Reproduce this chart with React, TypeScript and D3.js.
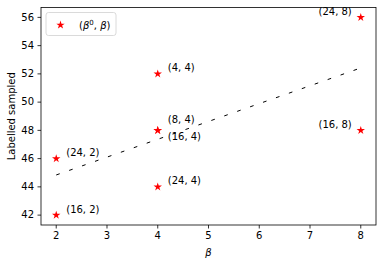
import React from 'react';
import * as d3 from 'd3';

// (β0, β) pairs and the labelled sample count for each
const betaZero = [16, 24, 4, 8, 16, 24, 16, 24];
const beta = [2, 2, 4, 4, 4, 4, 8, 8];
const labelled = [42, 46, 52, 48, 48, 44, 48, 56];

const xTicks = [2, 3, 4, 5, 6, 7, 8];
const yTicks = [42, 44, 46, 48, 50, 52, 54, 56];

// annotation placement (dx, dy of text centre, anchor)
const labelNudge: Record<string, [number, number, string]> = {
  '24,8': [-9, -6, 'end'],
  '16,8': [-9, -6, 'end'],
  '8,4': [10, -10.5, 'start'],
  '16,4': [10, 6, 'start'],
};

const W = 382;
const H = 267;
const margin = { left: 41, right: 6, top: 7.5, bottom: 42 };
const font = 'DejaVu Sans, sans-serif';

export default function App() {
  const x = d3.scaleLinear().domain([1.7, 8.3]).range([margin.left, W - margin.right]);
  const y = d3.scaleLinear().domain([41.3, 56.7]).range([H - margin.bottom, margin.top]);

  // least squares fit through the points
  const mx = d3.mean(beta)!;
  const my = d3.mean(labelled)!;
  const sxy = d3.sum(beta, (b, i) => (b - mx) * (labelled[i] - my));
  const sxx = d3.sum(beta, (b) => (b - mx) * (b - mx));
  const slope = sxy / sxx;
  const fit = (b: number) => my + slope * (b - mx);
  const xs = [d3.min(beta)!, d3.max(beta)!];
  const line = d3.line<number>().x((b) => x(b)).y((b) => y(fit(b)));

  const star = d3.symbol().type(d3.symbolStar).size(22)()!;
  const [x0, x1] = x.range();
  const [y0, y1] = y.range();

  return (
    <svg width={W} height={H} style={{ position: 'absolute', left: 0, top: 0, background: '#fff' }}
      fontFamily={font} fontSize={10}>
      <path d={line(xs)!} fill="none" stroke="#000" strokeWidth={1} strokeDasharray="3.7,10" />
      {beta.map((b, i) => {
        const key = `${betaZero[i]},${b}`;
        const [dx, dy, anchor] = labelNudge[key] ?? [10, -6, 'start'];
        return (
          <g key={i}>
            <path d={star} transform={`translate(${x(b)},${y(labelled[i])})`} fill="red" />
            <text x={x(b) + dx} y={y(labelled[i]) + dy} dy="0.35em" textAnchor={anchor} fill="#000">
              ({betaZero[i]}, {b})
            </text>
          </g>
        );
      })}
      <rect x={x0} y={y1} width={x1 - x0} height={y0 - y1} fill="none" stroke="#000" strokeWidth={0.8} />
      {xTicks.map((t) => (
        <g key={t} transform={`translate(${x(t)},${y0})`}>
          <line y2={3.5} stroke="#000" strokeWidth={0.8} />
          <text y={7} dy="0.71em" textAnchor="middle">{t}</text>
        </g>
      ))}
      {yTicks.map((t) => (
        <g key={t} transform={`translate(${x0},${y(t)})`}>
          <line x2={-3.5} stroke="#000" strokeWidth={0.8} />
          <text x={-7} dy="0.32em" textAnchor="end">{t}</text>
        </g>
      ))}
      <text x={(x0 + x1) / 2} y={256} textAnchor="middle" fontStyle="italic">β</text>
      <text transform={`translate(15,${(y0 + y1) / 2}) rotate(-90)`} textAnchor="middle">Labelled sampled</text>
      <g transform={`translate(${x0 + 5},${y1 + 5})`}>
        <rect width={70} height={23} rx={2.5} fill="#fff" fillOpacity={0.8} stroke="#d0d0d0" strokeWidth={0.8} />
        <path d={star} transform="translate(14.5,12.5)" fill="red" />
        <text x={33} y={12.5} dy="0.35em">
          (<tspan fontStyle="italic">β</tspan>
          <tspan dy={-4} fontSize={7}>0</tspan>
          <tspan dy={4}>, </tspan>
          <tspan fontStyle="italic">β</tspan>)
        </text>
      </g>
    </svg>
  );
}
